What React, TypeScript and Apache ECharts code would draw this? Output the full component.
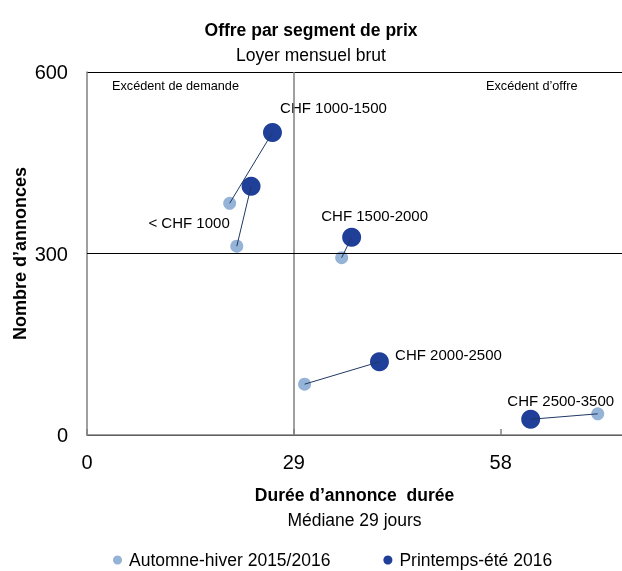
import React, { useEffect, useRef } from "react";
import * as echarts from "echarts";

const segments = ["< CHF 1000", "CHF 1000-1500", "CHF 1500-2000", "CHF 2000-2500", "CHF 2500-3500"];
const autumnDuration = [21.0, 20.0, 35.7, 30.5, 71.6];
const autumnCount = [312, 383, 293, 84, 35];
const springDuration = [23.0, 26.0, 37.1, 41.0, 62.2];
const springCount = [411, 500, 327, 121, 26];
const seriesNames = ["Automne-hiver 2015/2016", "Printemps-été 2016"];
const medianDuration = 29;
const medianCount = 300;
const xMin = 0;
const xMax = 75;
const xInterval = 29;
const yMin = 0;
const yMax = 600;
const yInterval = 300;

// label offsets (layout only), relative to the spring point centres
const labelOffsets = [[-62, 36], [61, -25], [23, -22], [69, -7], [30, -19]];

const FONT = '"Liberation Sans", Arial, sans-serif';
const LIGHT = "#95B3D7";
const DARK = "#1F3F99";
const LINK = "#1F3864";

export default function App() {
  const ref = useRef<HTMLDivElement>(null);
  useEffect(() => {
    if (!ref.current) return;
    const chart = echarts.init(ref.current, null, { renderer: "svg" });
    const autumnData = segments.map((s, i) => ({ name: s, value: [autumnDuration[i], autumnCount[i]] }));
    const springData = segments.map((s, i) => ({
      name: s,
      value: [springDuration[i], springCount[i]],
      label: { offset: labelOffsets[i] },
    }));
    const links = segments.map((s, i) => ({
      name: s,
      coords: [
        [autumnDuration[i], autumnCount[i]],
        [springDuration[i], springCount[i]],
      ],
    }));
    chart.setOption({
      animation: false,
      textStyle: { fontFamily: FONT },
      title: {
        text: "Offre par segment de prix",
        subtext: "Loyer mensuel brut",
        left: "center",
        top: 13,
        itemGap: 1,
        textStyle: { fontFamily: FONT, fontSize: 17.5, fontWeight: "bold", color: "#000", lineHeight: 24 },
        subtextStyle: { fontFamily: FONT, fontSize: 17.5, color: "#000", lineHeight: 24 },
      },
      legend: {
        left: 113,
        top: 551,
        padding: 0,
        itemGap: 53,
        itemWidth: 9,
        itemHeight: 9,
        itemStyle: { borderWidth: 0 },
        textStyle: { fontFamily: FONT, fontSize: 17.5, color: "#000", padding: [0, 0, 0, 2] },
        data: [
          { name: seriesNames[0], icon: "circle", itemStyle: { color: LIGHT } },
          { name: seriesNames[1], icon: "circle", itemStyle: { color: DARK } },
        ],
      },
      grid: { left: 87, top: 72, right: 0, bottom: 136, outerBoundsMode: "none", containLabel: false },
      xAxis: {
        type: "value",
        min: xMin,
        max: xMax,
        interval: xInterval,
        name: "{a|Durée d’annonce  durée}\n{b|Médiane 29 jours}",
        nameLocation: "middle",
        nameGap: 47,
        nameMoveOverlap: false,
        nameTextStyle: {
          rich: {
            a: { fontFamily: FONT, fontSize: 17.5, fontWeight: "bold", color: "#000", lineHeight: 25 },
            b: { fontFamily: FONT, fontSize: 17.5, color: "#000", lineHeight: 25 },
          },
        },
        axisLine: { show: true, onZero: false, lineStyle: { color: "#808080", width: 1.5 } },
        axisTick: { show: true, inside: true, length: 6, lineStyle: { color: "#808080", width: 1.5 } },
        axisLabel: { fontFamily: FONT, fontSize: 20, color: "#000", margin: 17, showMaxLabel: false },
        splitLine: { show: false },
      },
      yAxis: {
        type: "value",
        min: yMin,
        max: yMax,
        interval: yInterval,
        name: "Nombre d’annonces",
        nameLocation: "middle",
        nameGap: 58,
        nameMoveOverlap: false,
        nameTextStyle: { fontFamily: FONT, fontSize: 18, fontWeight: "bold", color: "#000" },
        axisLine: { show: true, lineStyle: { color: "#808080", width: 1.5 } },
        axisTick: { show: false },
        axisLabel: { fontFamily: FONT, fontSize: 20, color: "#000", margin: 19 },
        splitLine: { show: true, lineStyle: { color: "#000", width: 1 } },
      },
      graphic: [
        {
          type: "text",
          left: 112,
          top: 79,
          style: { text: "Excédent de demande", fontFamily: FONT, fontSize: 12.7, fill: "#000" },
        },
        {
          type: "text",
          left: 486,
          top: 79,
          style: { text: "Excédent d’offre", fontFamily: FONT, fontSize: 12.7, fill: "#000" },
        },
      ],
      series: [
        {
          type: "scatter",
          name: seriesNames[0],
          data: autumnData,
          symbolSize: 13,
          itemStyle: { color: LIGHT, opacity: 1 },
          z: 2,
          markLine: {
            silent: true,
            symbol: "none",
            label: { show: false },
            lineStyle: { color: "#808080", width: 1.5, type: "solid" },
            data: [{ xAxis: medianDuration }],
          },
        },
        {
          type: "scatter",
          name: seriesNames[1],
          data: springData,
          symbolSize: 19,
          itemStyle: { color: DARK, opacity: 1 },
          z: 3,
          label: {
            show: true,
            position: "inside",
            formatter: (p: any) => p.name,
            fontFamily: FONT,
            fontSize: 15,
            color: "#000",
          },
        },
        {
          type: "lines",
          coordinateSystem: "cartesian2d",
          data: links,
          silent: true,
          lineStyle: { color: LINK, width: 1, opacity: 1 },
          z: 4,
        },
        {
          type: "line",
          name: "median",
          data: [],
          markLine: {
            silent: true,
            symbol: "none",
            label: { show: false },
            lineStyle: { color: "#000", width: 1, type: "solid" },
            data: [{ yAxis: medianCount }],
          },
        },
      ],
    });
    return () => chart.dispose();
  }, []);
  return <div ref={ref} style={{ position: "fixed", left: 0, top: 0, width: 622, height: 571 }} />;
}
